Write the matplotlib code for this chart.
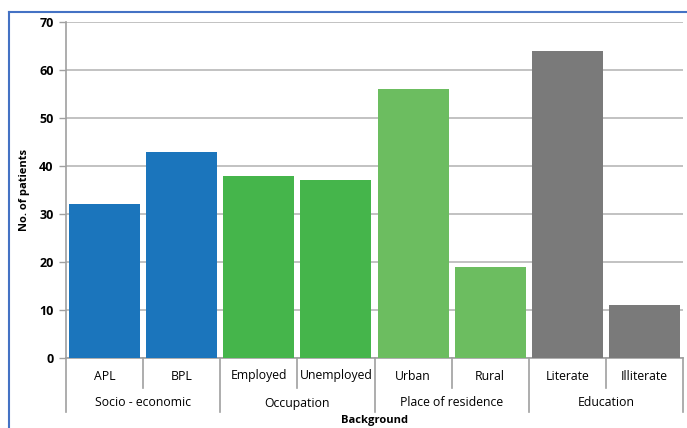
import numpy as np
import matplotlib
matplotlib.use('Agg')
from matplotlib import pyplot as plt
from matplotlib.lines import Line2D

categories = ['APL', 'BPL', 'Employed', 'Unemployed', 'Urban', 'Rural', 'Literate', 'Illiterate']
values = [32, 43, 38, 37, 56, 19, 64, 11]
groups = ['Socio - economic', 'Occupation', 'Place of residence', 'Education']
group_sizes = [2, 2, 2, 2]
group_colors = ['#1b75bc', '#45b54b', '#6cbd60', '#7a7a7a']

plt.rcParams['font.family'] = ['Open Sans', 'DejaVu Sans']

fig = plt.figure(figsize=(6.87, 4.28), dpi=100)
ax = fig.add_axes([66/687, 1-358/428, (683-66)/687, (358-22)/428])

colors = []
for c, n in zip(group_colors, group_sizes):
    colors += [c]*n

x = np.arange(len(categories))
ax.bar(x, values, width=0.92, color=colors, zorder=3)
ax.set_xlim(-0.5, len(categories)-0.5)
ax.set_ylim(0, 70)
ax.set_yticks(range(0, 71, 10))
ax.yaxis.grid(True, color='#b8b8b8', linewidth=1.2, zorder=0)
ax.tick_params(axis='y', length=5, color='#a0a0a0', width=1, labelsize=9, pad=4)
for lbl in ax.get_yticklabels():
    lbl.set_fontweight('bold')
ax.set_xticks([])
for s in ['top', 'right']:
    ax.spines[s].set_visible(False)
ax.spines['left'].set_color('#a0a0a0')
ax.spines['left'].set_linewidth(1.2)
ax.spines['bottom'].set_color('#a0a0a0')
ax.spines['bottom'].set_linewidth(1.2)

ax.set_ylabel('No. of patients', fontsize=8, fontweight='bold')
ax.yaxis.set_label_coords((30-66)/617, 0.5)

# category labels
trans = ax.get_xaxis_transform()
def fy(py):
    # pixel y in image -> axes y fraction
    return (358 - py) / (358 - 22)

for i, cat in enumerate(categories):
    ax.text(i, fy(376), cat, transform=trans, ha='center', va='center', fontsize=8.8)

# dividers
pos = -0.5
bounds = [pos]
for n in group_sizes:
    pos += n
    bounds.append(pos)
for i in range(len(categories)+1):
    xb = i - 0.5
    bottom = fy(412) if xb in bounds else fy(388)
    ax.add_line(Line2D([xb, xb], [0, bottom], transform=trans, color='#a0a0a0',
                       linewidth=1.2, clip_on=False))

start = -0.5
for g, n in zip(groups, group_sizes):
    ax.text(start + n/2, fy(403), g, transform=trans, ha='center', va='center', fontsize=8.8)
    start += n

ax.text(0.5, fy(421), 'Background', transform=ax.transAxes, ha='center', va='center',
        fontsize=8, fontweight='bold')

# border of figure
fig.add_artist(Line2D([9/687, 9/687], [0, 1-12/428], color='#4472c4', linewidth=1.5))
fig.add_artist(Line2D([9/687, 1], [1-12/428, 1-12/428], color='#4472c4', linewidth=1.5))

fig.savefig('out.png', dpi=100)
